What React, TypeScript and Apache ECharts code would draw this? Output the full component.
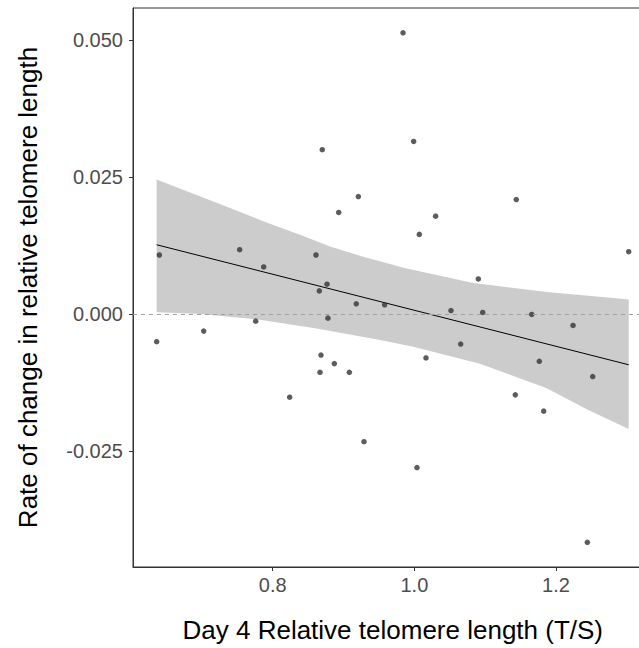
import { useEffect, useRef } from "react";
import * as echarts from "echarts";

// Day 4 relative telomere length (T/S) for each sample
const telomereLength = [
  0.64, 0.7534, 0.7873, 0.8611, 0.87, 0.9209, 0.8932, 0.8767, 0.8658, 0.984,
  0.999, 1.1439, 1.03, 1.007, 1.3026, 1.0903, 0.918, 0.958, 0.878, 0.776,
  0.7026, 0.6362, 0.8682, 0.887, 0.8668, 0.9082, 0.824, 0.9289, 1.0517, 1.0965,
  1.1657, 1.224, 1.0654, 1.0164, 1.1764, 1.2518, 1.1425, 1.1826, 1.0037, 1.2442,
];

// Rate of change in relative telomere length, same order as above
const changeRate = [
  0.01073, 0.01169, 0.00855, 0.01073, 0.02994, 0.0214, 0.0185, 0.0054, 0.00418, 0.05127,
  0.03145, 0.02085, 0.01782, 0.01449, 0.01133, 0.00636, 0.00182, 0.00164, -0.00079, -0.00134,
  -0.00316, -0.00509, -0.00752, -0.00909, -0.01067, -0.01067, -0.01521, -0.02333, 0.0006, 0.00024,
  -0.00012, -0.00212, -0.00552, -0.00806, -0.00867, -0.01145, -0.01479, -0.01776, -0.02806, -0.0417,
];

// Linear trend line (end points)
const trendLine = [
  [0.6362, 0.0126],
  [1.3026, -0.0093],
];

// 95% confidence band: upper and lower edges
const bandUpper = [
  [0.6362, 0.0245],
  [0.7397, 0.0193],
  [0.7867, 0.0169],
  [0.8432, 0.0142],
  [0.8809, 0.0123],
  [0.9279, 0.0104],
  [0.9656, 0.0091],
  [0.9844, 0.0084],
  [1.0832, 0.0056],
  [1.1868, 0.0040],
  [1.2809, 0.0029],
  [1.3026, 0.0026],
];
const bandLower = [
  [0.6362, 0.0003],
  [0.6927, 0.0],
  [0.7774, -0.0010],
  [0.8621, -0.0027],
  [0.9515, -0.0048],
  [0.9985, -0.0060],
  [1.0927, -0.0091],
  [1.1868, -0.0136],
  [1.2433, -0.0174],
  [1.3026, -0.0210],
];

const xTicks = [0.8, 1.0, 1.2];
const yTicks = [-0.025, 0, 0.025, 0.05];

const X_MIN = 0.6028;
const X_MAX = 1.3362;
const Y_MIN = -0.0462;
const Y_MAX = 0.0558;

const FONT = "'Liberation Sans', Arial, sans-serif";

export default function App() {
  const ref = useRef<HTMLDivElement>(null);

  useEffect(() => {
    if (!ref.current) return;
    const chart = echarts.init(ref.current, undefined, { renderer: "svg" });
    const points = telomereLength.map((x, i) => [x, changeRate[i]]);
    const bandOutline = [...bandUpper, ...bandLower.slice().reverse()];

    chart.setOption({
      animation: false,
      backgroundColor: "#ffffff",
      textStyle: { fontFamily: FONT },
      grid: {
        left: 133,
        top: 8,
        width: 519.5,
        height: 561,
        show: true,
        borderColor: "#333333",
        borderWidth: 1,
        backgroundColor: "transparent",
      },
      xAxis: {
        type: "value",
        min: X_MIN,
        max: X_MAX,
        name: "Day 4 Relative telomere length (T/S)",
        nameLocation: "middle",
        nameGap: 50,
        nameTextStyle: { fontSize: 26, color: "#000000", fontFamily: FONT },
        axisLine: { show: true, onZero: false, lineStyle: { color: "#333333", width: 1 } },
        axisTick: { show: true, length: 4, customValues: xTicks, lineStyle: { color: "#333333" } },
        axisLabel: {
          customValues: xTicks,
          formatter: (v: number) => v.toFixed(1),
          fontSize: 20,
          color: "#4d4d4d",
          margin: 8,
          fontFamily: FONT,
        },
        splitLine: { show: false },
      },
      yAxis: {
        type: "value",
        min: Y_MIN,
        max: Y_MAX,
        name: "Rate of change in relative telomere length",
        nameLocation: "middle",
        nameGap: 92,
        nameRotate: 90,
        nameTextStyle: { fontSize: 26, color: "#000000", fontFamily: FONT },
        axisLine: { show: true, onZero: false, lineStyle: { color: "#333333", width: 1 } },
        axisTick: { show: true, length: 4, customValues: yTicks, lineStyle: { color: "#333333" } },
        axisLabel: {
          customValues: yTicks,
          formatter: (v: number) => v.toFixed(3),
          fontSize: 20,
          color: "#4d4d4d",
          margin: 10,
          fontFamily: FONT,
        },
        splitLine: { show: false },
      },
      series: [
        {
          type: "custom",
          name: "confidenceBand",
          data: [bandUpper[0]],
          encode: { x: 0, y: 1 },
          silent: true,
          z: 1,
          renderItem: (_params: any, api: any) => ({
            type: "polygon",
            shape: { points: bandOutline.map((p) => api.coord(p)) },
            style: { fill: "#cccccc", stroke: "none" },
          }),
        },
        {
          type: "line",
          name: "trend",
          data: trendLine,
          symbol: "none",
          lineStyle: { color: "#000000", width: 1 },
          silent: true,
          z: 3,
          markLine: {
            silent: true,
            symbol: "none",
            label: { show: false },
            lineStyle: { color: "#a0a0a0", type: [4, 4], width: 1 },
            data: [{ yAxis: 0 }],
          },
        },
        {
          type: "scatter",
          name: "samples",
          data: points,
          symbol: "circle",
          symbolSize: 5.5,
          itemStyle: { color: "#333333" },
          z: 4,
        },
      ],
    });

    return () => chart.dispose();
  }, []);

  return (
    <div
      style={{
        position: "fixed",
        left: 0,
        top: 0,
        width: 639,
        height: 648,
        overflow: "hidden",
        background: "#ffffff",
      }}
    >
      <div ref={ref} style={{ width: 660, height: 648 }} />
    </div>
  );
}
